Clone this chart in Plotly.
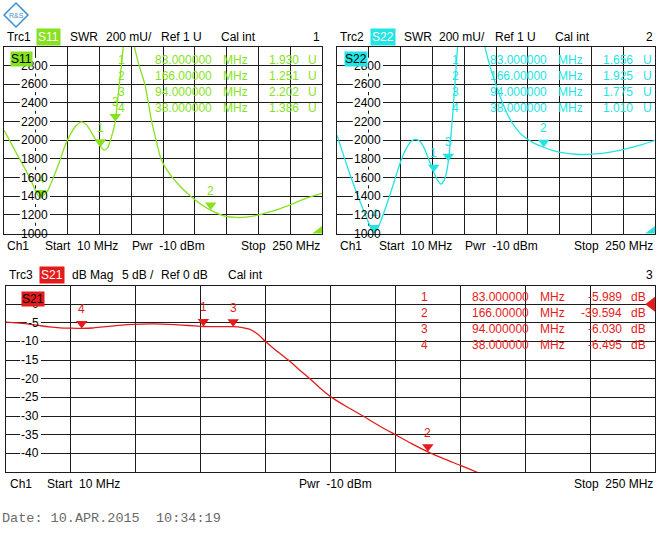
import plotly.graph_objects as go

W, H = 660, 543

# ---------------- data ----------------
START_MHZ = 10
STOP_MHZ = 250
PWR_DBM = -10
SWR_REF_MU = 1000
SWR_DIV_MU = 200
S21_REF_DB = 0
S21_DIV_DB = 5
DATE_TEXT = "Date: 10.APR.2015  10:34:19"

S11_FREQ = [10, 16, 22, 26, 30, 34, 37.5, 40, 43, 47, 52, 56, 60, 64, 68.5, 72, 75, 79, 83, 85.5,
            88, 91, 94, 96, 98, 100, 102, 104.5, 106.5, 108.5, 112, 116.5, 121.5, 125, 128.5,
            135, 142, 150, 158, 166, 176, 186, 194, 201, 210, 218, 225, 235, 243, 250]
S11_MU = [2108, 1950, 1793, 1690, 1580, 1450, 1380, 1410, 1460, 1590, 1775, 1940, 2060, 2150, 2197,
          2170, 2108, 2010, 1930, 1895, 1915, 2030, 2202, 2460, 2720, 3000, 3280, 3420, 3280, 3000,
          2800, 2590, 2197, 1990, 1800, 1640, 1520, 1410, 1320, 1251, 1190, 1172, 1178, 1194, 1230,
          1265, 1301, 1360, 1400, 1430]

S22_FREQ = [10, 15, 20, 25, 30, 34, 36.5, 38, 40, 43, 47, 51, 55, 59, 63, 66, 69, 72.5, 76, 80, 83,
            86, 88.5, 91, 93, 94, 96, 98, 100, 101, 104, 108, 112, 116, 120, 122, 125.5, 130.5, 135,
            140, 145, 150, 158, 166, 173, 181, 190, 196, 205, 215, 226, 238, 250]
S22_MU = [2054, 1835, 1625, 1430, 1250, 1110, 1030, 1010, 1040, 1130, 1290, 1460, 1640, 1810, 1930,
          1990, 2010, 1990, 1910, 1765, 1656, 1570, 1530, 1575, 1680, 1775, 2050, 2400, 2800, 3000,
          3400, 3600, 3550, 3350, 3100, 2980, 2790, 2574, 2400, 2240, 2130, 2050, 1975, 1925, 1890,
          1865, 1850, 1847, 1853, 1870, 1900, 1945, 2000]

S21_FREQ = [10, 14, 18, 22, 26, 30, 34, 38, 42, 46, 50, 55, 60, 65, 70, 75, 80, 83, 88, 94, 97,
            100, 103, 106, 110, 114.4, 118, 122.4, 126, 130.4, 136, 142, 148, 154, 160, 166, 172,
            178, 184, 190, 200]
S21_DB = [-4.8, -5.0, -5.3, -5.7, -6.1, -6.35, -6.45, -6.5, -6.4, -6.1, -5.8, -5.5, -5.35, -5.3,
          -5.4, -5.6, -5.85, -5.99, -6.0, -6.03, -6.2, -6.7, -8.0, -10.0, -12.5, -15.0, -17.3, -20.0,
          -22.4, -25.0, -27.5, -30.0, -32.6, -35.0, -37.4, -39.6, -41.5, -43.2, -45.0, -46.8, -49.5]

MARKER_LABELS = ["1", "2", "3", "4"]
MARKER_FREQ_MHZ = [83, 166, 94, 38]
S11_MARKER_U = [1.930, 1.251, 2.202, 1.386]
S22_MARKER_U = [1.656, 1.925, 1.775, 1.010]
S21_MARKER_DB = [-5.989, -39.594, -6.030, -6.495]

SWR_TICKS = [2800, 2600, 2400, 2200, 2000, 1800, 1600, 1400, 1200, 1000]
DB_TICKS = [0, -5, -10, -15, -20, -25, -30, -35, -40]

# ---------------- style ----------------
GREEN = "#86E21E"
CYAN = "#22E4E4"
RED = "#E51A1A"
GRID = "#1c1c1c"
FONT = "Liberation Sans, Arial, sans-serif"
FS = 12


def fx(px):
    return px / W


def fy(py):
    return 1 - py / H


def fmt_freq(f):
    n = len(str(int(f)))
    return f"{f:.{8 - n}f}"


def tw(s):
    return sum(6.67 if c.isdigit() else 4.0 for c in s)


panels = [
    dict(ax="x", ay="y", x0=4, x1=322, y0=47, y1=233.5,
         yr=(SWR_REF_MU, SWR_REF_MU + 10 * SWR_DIV_MU), dt=SWR_DIV_MU,
         freq=S11_FREQ, val=S11_MU, mk=[v * 1000 for v in S11_MARKER_U], mkv=S11_MARKER_U,
         col=GREEN, ref=SWR_REF_MU, ticks=SWR_TICKS, lab_r=49.5, unit="U",
         trc="Trc1", sp="S11", meas="SWR", scale=f"{SWR_DIV_MU} mU/", reftxt=f"Ref {SWR_REF_MU // 1000} U",
         cal_x=219, num="1", hx=[5, 36, 68, 104, 159], inner=(10, 59),
         tbl=dict(num=127, frq=214, mhz=221, val=301, unit=306, y0=59.5, dy=16.2),
         foot=dict(ch=5, start=43, pwr=130, stop=322), fy=246, hy=36.5),
    dict(ax="x2", ay="y2", x0=337, x1=655, y0=47, y1=233.5,
         yr=(SWR_REF_MU, SWR_REF_MU + 10 * SWR_DIV_MU), dt=SWR_DIV_MU,
         freq=S22_FREQ, val=S22_MU, mk=[v * 1000 for v in S22_MARKER_U], mkv=S22_MARKER_U,
         col=CYAN, ref=SWR_REF_MU, ticks=SWR_TICKS, lab_r=382.5, unit="U",
         trc="Trc2", sp="S22", meas="SWR", scale=f"{SWR_DIV_MU} mU/", reftxt=f"Ref {SWR_REF_MU // 1000} U",
         cal_x=553, num="2", hx=[338, 370, 402, 437, 493], inner=(344, 59),
         tbl=dict(num=461, frq=549, mhz=556, val=635, unit=641, y0=59.5, dy=16.2),
         foot=dict(ch=338, start=377, pwr=463, stop=655), fy=246, hy=36.5),
    dict(ax="x3", ay="y3", x0=6, x1=655, y0=285.5, y1=472,
         yr=(S21_REF_DB - 9 * S21_DIV_DB, S21_REF_DB + S21_DIV_DB), dt=S21_DIV_DB,
         freq=S21_FREQ, val=S21_DB, mk=S21_MARKER_DB, mkv=S21_MARKER_DB,
         col=RED, ref=S21_REF_DB, ticks=DB_TICKS, lab_r=40.5, unit="dB",
         trc="Trc3", sp="S21", meas="dB Mag", scale=f"{S21_DIV_DB} dB /", reftxt=f"Ref {S21_REF_DB} dB",
         cal_x=226, num="3", hx=[7, 39, 70, 120, 159], inner=(21, 298.5),
         tbl=dict(num=430, frq=531, mhz=538, val=624, unit=629, y0=296.7, dy=16.1),
         foot=dict(ch=8, start=45, pwr=297, stop=655), fy=484, hy=274.5),
]

fig = go.Figure()
layout = dict(width=W, height=H, margin=dict(l=0, r=0, t=0, b=0),
              paper_bgcolor="white", plot_bgcolor="white", showlegend=False,
              font=dict(family=FONT, size=FS, color="black"))
annotations = []
shapes = []

axis_common = dict(showgrid=True, gridcolor=GRID, gridwidth=1, showline=True, linecolor=GRID,
                   linewidth=1, mirror=True, zeroline=False, showticklabels=False, ticks="",
                   fixedrange=True)


def txt(x, y, s, color="black", anchor="left", size=FS, family=FONT, **kw):
    annotations.append(dict(x=fx(x), y=fy(y), xref="paper", yref="paper", text=s, showarrow=False,
                            xanchor=anchor, yanchor="middle",
                            font=dict(color=color, size=size, family=family), **kw))


for p in panels:
    xn = "xaxis" + p["ax"][1:]
    yn = "yaxis" + p["ay"][1:]
    layout[xn] = dict(axis_common, domain=[fx(p["x0"]), fx(p["x1"])], range=[START_MHZ, STOP_MHZ],
                      tick0=START_MHZ, dtick=(STOP_MHZ - START_MHZ) / 10, anchor=p["ay"])
    layout[yn] = dict(axis_common, domain=[fy(p["y1"]), fy(p["y0"])], range=list(p["yr"]),
                      tick0=p["yr"][0], dtick=p["dt"], anchor=p["ax"])
    col = p["col"]

    # trace
    fig.add_trace(go.Scatter(x=p["freq"], y=p["val"], mode="lines", xaxis=p["ax"], yaxis=p["ay"],
                             line=dict(color=col, width=1.3, shape="spline", smoothing=0.6),
                             hoverinfo="skip"))
    # marker triangles (tip on the data point)
    fig.add_trace(go.Scatter(x=MARKER_FREQ_MHZ, y=p["mk"], mode="markers", xaxis=p["ax"], yaxis=p["ay"],
                             marker=dict(symbol="triangle-up", angle=180, size=10, color=col, standoff=5,
                                         line=dict(width=0)),
                             cliponaxis=False, hoverinfo="skip"))
    # reference level indicator at right edge
    fig.add_trace(go.Scatter(x=[STOP_MHZ], y=[p["ref"]], mode="markers", xaxis=p["ax"], yaxis=p["ay"],
                             marker=dict(symbol="triangle-down", angle=90, size=13, standoff=3.3,
                                         color=col, line=dict(width=0)),
                             cliponaxis=True, hoverinfo="skip"))
    for lab, f, v in zip(MARKER_LABELS, MARKER_FREQ_MHZ, p["mk"]):
        annotations.append(dict(x=f, y=v, xref=p["ax"], yref=p["ay"], text=lab, showarrow=False,
                                yshift=19, font=dict(color=col, size=FS)))

    # y tick labels with white gaps in the grid
    ph = p["y1"] - p["y0"]
    pw = p["x1"] - p["x0"]
    span = p["yr"][1] - p["yr"][0]
    hh = 7.8 * span / ph
    fpp = (STOP_MHZ - START_MHZ) / pw
    for t in p["ticks"]:
        s = str(t)
        left = p["lab_r"] - 1 - tw(s) - 2
        shapes.append(dict(type="rect", xref=p["ax"], yref=p["ay"], layer="between",
                           x0=START_MHZ + (left - p["x0"]) * fpp,
                           x1=START_MHZ + (p["lab_r"] + 0.5 - p["x0"]) * fpp,
                           y0=t - hh, y1=t + hh, fillcolor="white", line=dict(width=0)))
        annotations.append(dict(x=fx(p["lab_r"]), y=t, xref="paper", yref=p["ay"], text=s,
                                showarrow=False, xanchor="right", yanchor="middle",
                                font=dict(size=FS, color="black")))

    # marker table
    tb = p["tbl"]
    for i, (lab, f, v) in enumerate(zip(MARKER_LABELS, MARKER_FREQ_MHZ, p["mkv"])):
        yy = tb["y0"] + i * tb["dy"]
        txt(tb["num"], yy, lab, col, "right")
        txt(tb["frq"], yy, fmt_freq(f), col, "right")
        txt(tb["mhz"], yy, "MHz", col, "left")
        vs = f"{v:.3f}"
        txt(tb["val"], yy, vs, col, "right")
        txt(tb["unit"], yy, p["unit"], col, "left")

    # header
    hx = p["hx"]
    hy = p["hy"]
    txt(hx[0], hy, p["trc"])
    txt(hx[1], hy, p["sp"], "white", bgcolor=col, borderpad=1)
    txt(hx[2], hy, p["meas"])
    txt(hx[3], hy, p["scale"])
    txt(hx[4], hy, p["reftxt"])
    txt(p["cal_x"], hy, "Cal int")
    txt(p["x1"], hy, p["num"], anchor="right")
    # inner trace label
    txt(p["inner"][0], p["inner"][1], p["sp"], "black", bgcolor=col, borderpad=0)
    # footer
    ft = p["foot"]
    txt(ft["ch"], p["fy"], "Ch1")
    txt(ft["start"], p["fy"], f"Start\u00a0 {START_MHZ} MHz")
    txt(ft["pwr"], p["fy"], f"Pwr\u00a0 {PWR_DBM} dBm")
    txt(ft["stop"], p["fy"], f"Stop\u00a0 {STOP_MHZ} MHz", anchor="right")

# date line
txt(0, 518.5, DATE_TEXT, "#6a6a6a", size=13.5, family="Liberation Mono, Courier New, monospace")

# R&S logo
shapes.append(dict(type="path", xref="paper", yref="paper",
                   path=f"M {fx(16)} {fy(3)} L {fx(28)} {fy(15)} L {fx(16)} {fy(27)} L {fx(4)} {fy(15)} Z",
                   line=dict(color="#3c8fd6", width=1.5), fillcolor="white", layer="above"))
txt(16, 15, "R&S", "#3c8fd6", anchor="center", size=7)

layout["annotations"] = annotations
layout["shapes"] = shapes
fig.update_layout(**layout)
fig.write_html("out.html")
